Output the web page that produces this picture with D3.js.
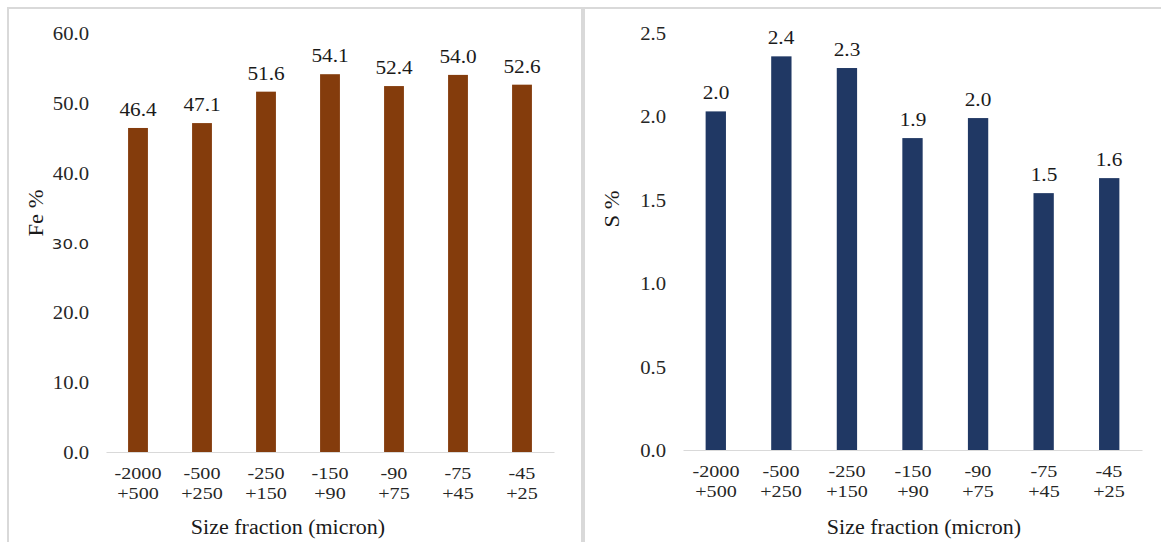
<!DOCTYPE html>
<html>
<head>
<meta charset="utf-8">
<script src="https://cdn.jsdelivr.net/npm/d3@7"></script>
<style>
  html, body { margin: 0; padding: 0; background: #fff; }
  #wrap { position: relative; width: 1161px; height: 542px; overflow: hidden; }
  #wrap svg { position: absolute; left: 0; top: 0; }
  .lbl { position: absolute; white-space: nowrap; font-family: 'Liberation Serif'; line-height: 1; color: #262626; }
</style>
</head>
<body>
<div id="wrap"><svg id="s" width="1161" height="542"></svg></div>
<script>
// ---- data ----
const categories = ["-2000 +500", "-500 +250", "-250 +150", "-150 +90", "-90 +75", "-75 +45", "-45 +25"];
const feValues = [46.4, 47.1, 51.6, 54.1, 52.4, 54.0, 52.6];
const sValues = [2.03, 2.36, 2.29, 1.87, 1.99, 1.54, 1.63];
const feTicks = [0, 10, 20, 30, 40, 50, 60];
const sTicks = [0, 0.5, 1.0, 1.5, 2.0, 2.5];
const xTitle = "Size fraction (micron)";
const feTitle = "Fe %";
const sTitle = "S %";

const SX = 1.15;
const svg = d3.select("#s");
const wrap = d3.select("#wrap");
const border = "#d9d9d9";

// HTML text label; anchor: 'start' | 'middle' | 'end'; y is baseline-ish centre
function label(txt, x, y, size, anchor, opts = {}) {
  const tx = anchor === "middle" ? "-50%" : anchor === "end" ? "-100%" : "0";
  const rot = opts.rotate ? ` rotate(${opts.rotate}deg)` : "";
  return wrap.append("div").attr("class", "lbl")
    .style("left", x + "px").style("top", y + "px")
    .style("font-size", size + "px")
    .style("font-family", opts.family || "'Liberation Serif'")
    .style("color", opts.color || "#262626")
    .style("transform-origin", "0 0")
    .style("transform", `translate(0,-50%)${rot} scaleX(${opts.sx || SX}) translate(${tx},0)`)
    .text(txt);
}

// panel frames
svg.append("line").attr("x1", 8).attr("x2", 8).attr("y1", 7).attr("y2", 542).attr("stroke", border).attr("stroke-width", 2);
svg.append("line").attr("x1", 7).attr("x2", 581).attr("y1", 8).attr("y2", 8).attr("stroke", border).attr("stroke-width", 2);
svg.append("line").attr("x1", 585).attr("x2", 1161).attr("y1", 8).attr("y2", 8).attr("stroke", border).attr("stroke-width", 2);
svg.append("rect").attr("x", 581).attr("y", 7).attr("width", 4).attr("height", 535).attr("fill", border);

function drawPanel(cfg) {
  const x = d3.scaleBand().domain(cfg.categories).range(cfg.xRange).paddingInner(0.69).paddingOuter(0.345);
  const y = d3.scaleLinear().domain(cfg.yDomain).range(cfg.yRange);
  const fmt = d3.format(".1f");

  // bars
  svg.selectAll(null).data(cfg.values).enter().append("rect")
    .attr("x", (d, i) => x(cfg.categories[i]))
    .attr("width", x.bandwidth())
    .attr("y", d => y(d))
    .attr("height", d => y(0) - y(d))
    .attr("fill", cfg.color);

  // x axis line via d3 axis
  const xa = svg.append("g").attr("transform", `translate(0,${y(0)})`)
    .call(d3.axisBottom(x).tickSize(0).tickFormat(""));
  xa.selectAll(".tick").remove();
  xa.select(".domain").attr("stroke", border).attr("stroke-width", 1.2);

  // y tick labels
  cfg.ticks.forEach(t => {
    const sans = cfg.sansTick !== undefined && t === cfg.sansTick;
    label(fmt(t), cfg.xRange[0] - 17, y(t) + 1, sans ? 14.5 : 18, "end",
      sans ? { family: "'DejaVu Sans'" } : {});
  });

  // category labels, two lines
  cfg.categories.forEach(c => {
    const cx = x(c) + x.bandwidth() / 2;
    c.split(" ").forEach((p, k) => {
      label(p, cx, y(0) + 22 + k * 20, 17.5, "middle");
    });
  });

  // value labels
  cfg.values.forEach((v, i) => {
    label(fmt(v), x(cfg.categories[i]) + x.bandwidth() / 2, y(v) - 18, 18.5, "middle", { color: "#1a1a1a" });
  });

  // x title
  label(xTitle, cfg.xTitleX, 527, 20, "middle", { sx: 1.1, color: "#1a1a1a" });

  // y title (rotated)
  wrap.append("div").attr("class", "lbl")
    .style("left", cfg.yTitleX + "px").style("top", cfg.yTitleY + "px")
    .style("font-size", "20px").style("color", "#1a1a1a")
    .style("transform-origin", "0 0")
    .style("transform", "rotate(-90deg) scaleX(1.13) translate(-50%,-50%)")
    .text(cfg.yTitle);
}

drawPanel({
  categories, values: feValues, ticks: feTicks,
  xRange: [106, 554], yDomain: [0, 60], yRange: [452, 33],
  color: "#843C0C", xTitleX: 288, yTitle: feTitle, yTitleX: 36, yTitleY: 213,
  sansTick: 30
});

drawPanel({
  categories, values: sValues, ticks: sTicks,
  xRange: [683, 1142], yDomain: [0, 2.5], yRange: [450, 33],
  color: "#203864", xTitleX: 924, yTitle: sTitle, yTitleX: 612, yTitleY: 209
});
</script>
</body>
</html>
